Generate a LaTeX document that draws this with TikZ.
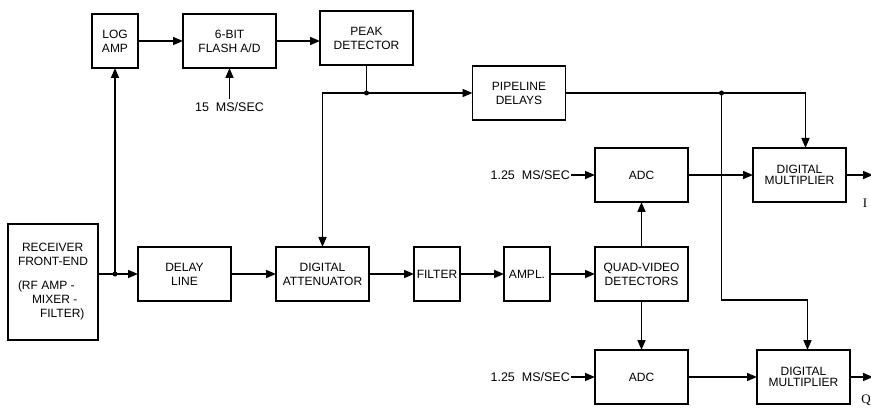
\documentclass[tikz,border=0pt]{standalone}
\usepackage{fontspec}
\setmainfont{Liberation Sans}
\newfontfamily\iqfont{Liberation Serif}
\usetikzlibrary{arrows.meta,positioning}

\begin{document}
\begin{tikzpicture}[
x=1pt,y=-1pt,
node distance=45pt and 45pt,
box/.style={draw,line width=1.6pt,outer sep=0pt,align=center,minimum width=93pt,minimum height=54pt,inner sep=1pt,font=\fontsize{12}{14}\selectfont},
narrow/.style={box,minimum width=46pt},
arrow/.style={-{Triangle[length=10pt,width=8pt]},line width=1.6pt},
line/.style={line width=1.6pt},
rate/.style={inner sep=1pt,font=\fontsize{12.5}{14}\selectfont},
iq/.style={inner sep=0pt,font=\iqfont\fontsize{13}{15}\selectfont}
]
\useasboundingbox (0,0) rectangle (871,409);
% main chain
\node[box,minimum width=90pt,minimum height=116pt,align=left] (rx) at (53,282)
  {\hspace*{4pt}RECEIVER\\FRONT-END\\[10pt](RF AMP -\\\hspace*{14pt}MIXER -\\\hspace*{22pt}FILTER)};
\node[box,right=40pt of rx,yshift=8pt] (delay) {DELAY\\LINE};
\node[box,right=of delay] (atten) {DIGITAL\\ATTENUATOR};
\node[narrow,right=of atten] (filter) {FILTER};
\node[narrow,right=44pt of filter] (ampl) {AMPL.};
\node[box,right=of ampl] (quad) {QUAD-VIDEO\\DETECTORS};
\node[box,above=of quad] (adcI) {ADC};
\node[box,below=49pt of quad] (adcQ) {ADC};
\node[box,right=65pt of adcI] (multI) {DIGITAL\\[-3.5pt]MULTIPLIER};
\node[box,right=69pt of adcQ] (multQ) {DIGITAL\\[-3.5pt]MULTIPLIER};
% top row
\node[narrow] (logamp) at (115,41) {LOG\\AMP};
\node[box,right=45pt of logamp] (flash) {6-BIT\\FLASH A/D};
\node[box,right=44pt of flash,yshift=3pt] (peak) {PEAK\\DETECTOR};
\node[box] (pipe) at (519,93) {PIPELINE\\DELAYS};
% clocks
\node[rate,below=31pt of flash,inner sep=3pt] (clk) {15\ \ MS/SEC};
\node[rate,left=24pt of adcI] (rateI) {1.25\ \ MS/SEC};
\node[rate,left=24pt of adcQ] (rateQ) {1.25\ \ MS/SEC};
% outputs
\coordinate[right=27pt of multI] (outI);
\coordinate[right=23pt of multQ] (outQ);
\node[iq] (labI) at (865,203) {I};
\node[iq] (labQ) at (866,400) {Q};
% junctions
\coordinate (j0) at (logamp.south |- delay.west);
\coordinate (j1) at (peak.south |- pipe.west);
\coordinate[right=156pt of pipe.east] (j2);

\draw[arrow] (rx.east |- delay.west) -- (delay.west);
\draw[arrow] (j0) -- (logamp.south);
\draw[arrow] (logamp) -- (flash);
\draw[arrow] (flash.east) -- (flash.east -| peak.west);
\draw[arrow] (clk) -- (flash);
\draw[line] (peak.south) -- (j1);
\draw[arrow] (j1) -| (atten.north);
\draw[arrow] (j1) -- (pipe.west);
\draw[arrow] (pipe.east) -| ([xshift=6pt]multI.north);
\draw[arrow] (j2) -- ++(0,207) -| ([xshift=4pt]multQ.north);
\draw[arrow] (delay) -- (atten);
\draw[arrow] (atten) -- (filter);
\draw[arrow] (filter) -- (ampl);
\draw[arrow] (ampl) -- (quad);
\draw[arrow] (quad) -- (adcI);
\draw[arrow] (quad) -- (adcQ);
\draw[arrow] (rateI) -- (adcI);
\draw[arrow] (rateQ) -- (adcQ);
\draw[arrow] (adcI.east) -- (adcI.east -| multI.west);
\draw[arrow] (adcQ.east) -- (adcQ.east -| multQ.west);
\draw[arrow] (multI.east) -- (outI);
\draw[arrow] (multQ.east) -- (outQ);
\foreach \j in {j0,j1,j2} \fill (\j) circle (2.5pt);
\end{tikzpicture}
\end{document}
